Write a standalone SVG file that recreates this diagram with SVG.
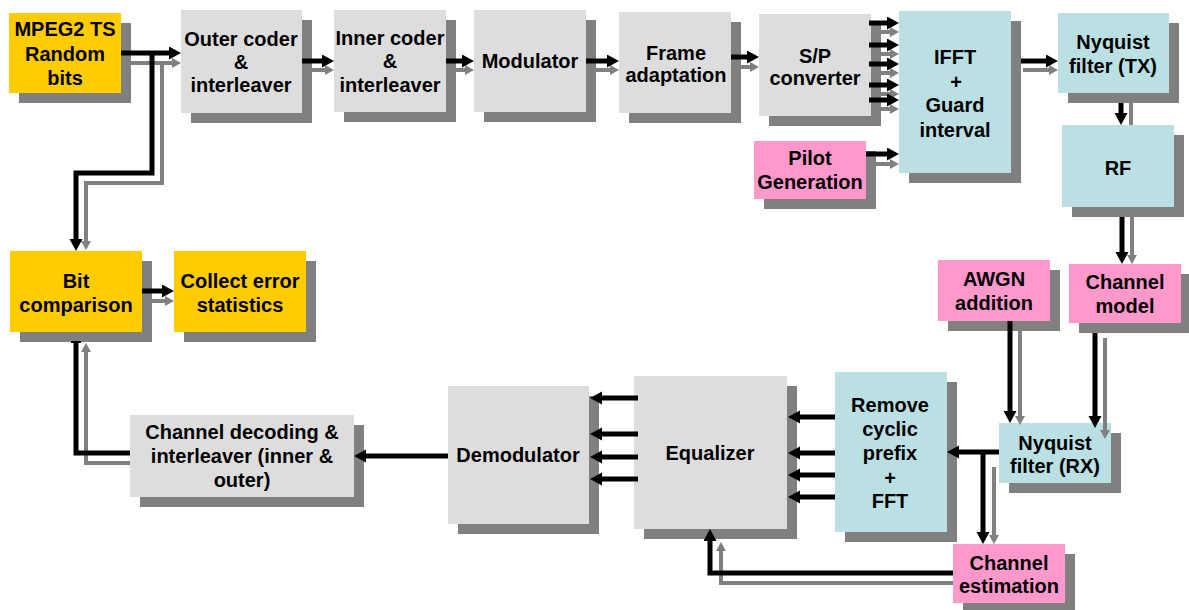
<svg xmlns="http://www.w3.org/2000/svg" width="1189" height="610" viewBox="0 0 1189 610">
<style>
.sh{fill:#808080}
.g{fill:#dddddd}
.y{fill:#ffcc00}
.p{fill:#ff99cc}
.b{fill:#bbe0e3}
text{font-family:"Liberation Sans",Arial,sans-serif;font-weight:bold;font-size:20px;text-anchor:middle;fill:#000}
.k{fill:none;stroke:#000;stroke-width:5}
.ka{fill:none;stroke:#000;stroke-width:5;marker-end:url(#ah)}
.s{fill:none;stroke:#808080;stroke-width:4}
.sa{fill:none;stroke:#808080;stroke-width:4;marker-end:url(#gh)}
</style>
<defs>
<marker id="ah" markerUnits="userSpaceOnUse" markerWidth="13" markerHeight="14" refX="3" refY="6.5" orient="auto"><path d="M0,0 L12,6.5 L0,13 z" fill="#000"/></marker>
<marker id="gh" markerUnits="userSpaceOnUse" markerWidth="10" markerHeight="11" refX="2" refY="5" orient="auto"><path d="M0,0 L9,5 L0,10 z" fill="#808080"/></marker>
</defs>
<rect width="1189" height="610" fill="#fff"/>
<g id="mpeg2"><rect class="sh" x="19" y="23" width="112" height="80"/><rect class="y" x="9" y="13" width="112" height="80"/><text x="65" y="36">MPEG2 TS</text><text x="65" y="61">Random</text><text x="65" y="85">bits</text></g>
<g id="outer"><rect class="sh" x="191" y="20" width="121" height="103"/><rect class="g" x="181" y="10" width="121" height="103"/><text x="241" y="46">Outer coder</text><text x="241" y="69">&amp;</text><text x="241" y="92">interleaver</text></g>
<g id="inner"><rect class="sh" x="344" y="20" width="112" height="102"/><rect class="g" x="334" y="10" width="112" height="102"/><text x="390" y="45">Inner coder</text><text x="390" y="68">&amp;</text><text x="390" y="92">interleaver</text></g>
<g id="modulator"><rect class="sh" x="484" y="20" width="112" height="102"/><rect class="g" x="474" y="10" width="112" height="102"/><text x="530" y="68">Modulator</text></g>
<g id="frame"><rect class="sh" x="629" y="22" width="112" height="101"/><rect class="g" x="619" y="12" width="112" height="101"/><text x="676" y="60">Frame</text><text x="676" y="82">adaptation</text></g>
<g id="sp"><rect class="sh" x="769" y="24" width="112" height="102"/><rect class="g" x="759" y="14" width="112" height="102"/><text x="815" y="63">S/P</text><text x="815" y="85">converter</text></g>
<g id="pilot"><rect class="sh" x="764" y="151" width="112" height="58"/><rect class="p" x="754" y="141" width="112" height="58"/><text x="810" y="165">Pilot</text><text x="810" y="189">Generation</text></g>
<g id="ifft"><rect class="sh" x="909" y="21" width="112" height="162"/><rect class="b" x="899" y="11" width="112" height="162"/><text x="955" y="64">IFFT</text><text x="956" y="89">+</text><text x="955" y="112">Guard</text><text x="955" y="137">interval</text></g>
<g id="nyqtx"><rect class="sh" x="1068" y="23" width="111" height="80"/><rect class="b" x="1058" y="13" width="111" height="80"/><text x="1113" y="49">Nyquist</text><text x="1113" y="73">filter (TX)</text></g>
<g id="rf"><rect class="sh" x="1072" y="135" width="112" height="82"/><rect class="b" x="1062" y="125" width="112" height="82"/><text x="1118" y="175">RF</text></g>
<g id="chmodel"><rect class="sh" x="1079" y="274" width="112" height="59"/><rect class="p" x="1069" y="264" width="112" height="59"/><text x="1125" y="289">Channel</text><text x="1125" y="313">model</text></g>
<g id="awgn"><rect class="sh" x="948" y="270" width="112" height="61"/><rect class="p" x="938" y="260" width="112" height="61"/><text x="994" y="286">AWGN</text><text x="994" y="310">addition</text></g>
<g id="nyqrx"><rect class="sh" x="1009" y="433" width="112" height="60"/><rect class="b" x="999" y="423" width="112" height="60"/><text x="1055" y="450">Nyquist</text><text x="1055" y="473">filter (RX)</text></g>
<g id="remove"><rect class="sh" x="845" y="382" width="112" height="160"/><rect class="b" x="835" y="372" width="112" height="160"/><text x="890" y="412">Remove</text><text x="890" y="436">cyclic</text><text x="890" y="460">prefix</text><text x="890" y="485">+</text><text x="890" y="508">FFT</text></g>
<g id="chest"><rect class="sh" x="963" y="554" width="112" height="59"/><rect class="p" x="953" y="544" width="112" height="59"/><text x="1009" y="570">Channel</text><text x="1009" y="593">estimation</text></g>
<g id="equalizer"><rect class="sh" x="644" y="386" width="153" height="153"/><rect class="g" x="634" y="376" width="153" height="153"/><text x="710" y="460">Equalizer</text></g>
<g id="demod"><rect class="sh" x="458" y="396" width="141" height="138"/><rect class="g" x="448" y="386" width="141" height="138"/><text x="518" y="462">Demodulator</text></g>
<g id="chdec"><rect class="sh" x="140" y="425" width="224" height="82"/><rect class="g" x="130" y="415" width="224" height="82"/><text x="242" y="439">Channel decoding &amp;</text><text x="242" y="463">interleaver (inner &amp;</text><text x="242" y="487">outer)</text></g>
<g id="bitcomp"><rect class="sh" x="20" y="261" width="132" height="81"/><rect class="y" x="10" y="251" width="132" height="81"/><text x="76" y="288">Bit</text><text x="76" y="312">comparison</text></g>
<g id="collect"><rect class="sh" x="184" y="261" width="132" height="81"/><rect class="y" x="174" y="251" width="132" height="81"/><text x="240" y="288">Collect error</text><text x="240" y="312">statistics</text></g>
<g id="connectors">
<path class="sa" d="M131,63 H174"/>
<path class="sa" d="M162,63 V183 H86 V243"/>
<path class="sa" d="M312,70 H327"/>
<path class="sa" d="M456,70 H467"/>
<path class="sa" d="M596,70 H612"/>
<path class="sa" d="M741,67 H752"/>
<path class="sa" d="M881,32 H892"/>
<path class="sa" d="M881,54 H892"/>
<path class="sa" d="M881,73 H892"/>
<path class="sa" d="M881,94 H892"/>
<path class="sa" d="M881,109 H892"/>
<path class="sa" d="M876,164 H892"/>
<path class="sa" d="M1023,70 H1051"/>
<path class="s" d="M1131,103 V125"/>
<path class="sa" d="M1132,217 V257"/>
<path class="sa" d="M1105,338 V432"/>
<path class="sa" d="M1020,331 V418"/>
<path class="sa" d="M994,467 V537"/>
<path class="sa" d="M953,583 H721 V549"/>
<path class="sa" d="M130,463 H86 V350"/>
<path class="sa" d="M152,301 H167"/>
<path class="ka" d="M121,53 H172"/>
<path class="ka" d="M152,53 V173 H76 V242"/>
<path class="ka" d="M302,61 H325"/>
<path class="ka" d="M446,61 H465"/>
<path class="ka" d="M586,61 H610"/>
<path class="ka" d="M731,57 H750"/>
<path class="ka" d="M869,23 H890"/>
<path class="ka" d="M869,45 H890"/>
<path class="ka" d="M869,64 H890"/>
<path class="ka" d="M869,85 H890"/>
<path class="ka" d="M869,100 H890"/>
<path class="ka" d="M866,154 H890"/>
<path class="ka" d="M1021,61 H1049"/>
<path class="ka" d="M1121,103 V116"/>
<path class="ka" d="M1122,217 V255"/>
<path class="ka" d="M1095,333 V419"/>
<path class="ka" d="M1010,321 V414"/>
<path class="ka" d="M999,452 H956"/>
<path class="ka" d="M983,452 V535"/>
<path class="ka" d="M953,573 H710 V538"/>
<path class="ka" d="M835,417 H797"/>
<path class="ka" d="M835,453 H797"/>
<path class="ka" d="M835,475 H797"/>
<path class="ka" d="M835,497 H797"/>
<path class="ka" d="M638,398 H599"/>
<path class="ka" d="M638,434 H599"/>
<path class="ka" d="M638,457 H599"/>
<path class="ka" d="M638,479 H599"/>
<path class="ka" d="M448,456 H363"/>
<path class="ka" d="M142,291 H165"/>
<path class="k" d="M130,453 H76 V342"/>
<rect x="71" y="341" width="10" height="2" fill="#000"/>
</g>
</svg>
